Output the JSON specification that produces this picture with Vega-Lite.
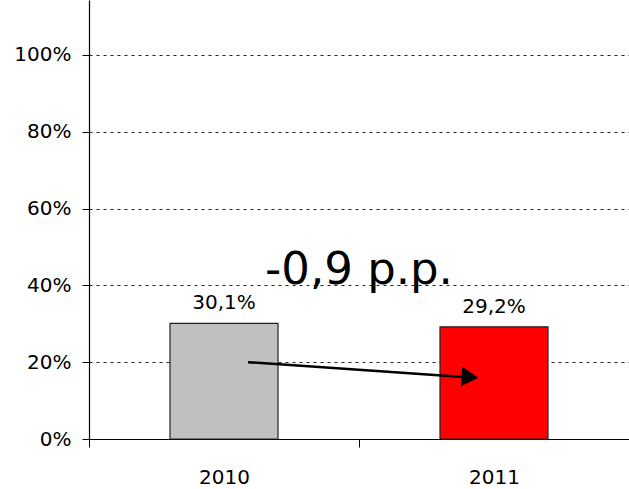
{
  "$schema": "https://vega.github.io/schema/vega-lite/v6.json",
  "width": 540,
  "height": 439,
  "autosize": {"type": "none"},
  "padding": {"left": 89, "top": 0, "right": 0, "bottom": 50},
  "background": "white",
  "config": {
    "view": {"stroke": null},
    "font": "DejaVu Sans",
    "axis": {"labelFont": "DejaVu Sans", "labelFontSize": 20, "labelColor": "black", "domainColor": "black", "tickColor": "black"}
  },
  "layer": [
    {
      "data": {"values": [
        {"year": "2010", "value": 0.301, "label": "30,1%"},
        {"year": "2011", "value": 0.292, "label": "29,2%"}
      ]},
      "encoding": {
        "x": {"field": "year", "type": "nominal", "title": null,
          "scale": {"paddingInner": 0, "paddingOuter": 0},
          "axis": {"labelAngle": 0, "tickBand": "extent", "tickSize": 8, "labelPadding": 20, "domainWidth": 1.2}},
        "y": {"field": "value", "type": "quantitative", "title": null,
          "scale": {"domain": [0, 1.1432], "nice": false},
          "axis": {"values": [0, 0.2, 0.4, 0.6, 0.8, 1.0], "format": ".0%", "grid": true, "gridDash": [3, 4], "gridColor": "#222222", "gridWidth": 1, "tickSize": 7, "labelPadding": 11, "domainWidth": 1.2}}
      },
      "layer": [
        {
          "mark": {"type": "bar", "width": {"band": 0.4}, "stroke": "#222222", "strokeWidth": 1.2},
          "encoding": {
            "color": {"field": "year", "type": "nominal", "legend": null,
              "scale": {"domain": ["2010", "2011"], "range": ["#C0C0C0", "#FF0000"]}}
          }
        },
        {
          "mark": {"type": "text", "dy": -14, "baseline": "alphabetic", "fontSize": 20, "color": "black"},
          "encoding": {"text": {"field": "label"}}
        }
      ]
    },
    {
      "data": {"values": [
        {"px": 0.589, "py": 0.20},
        {"px": 1.40, "py": 0.161}
      ]},
      "mark": {"type": "line", "color": "black", "strokeWidth": 2.5},
      "encoding": {
        "x": {"field": "px", "type": "quantitative", "scale": {"domain": [0, 2], "nice": false}, "axis": null},
        "y": {"field": "py", "type": "quantitative", "title": null}
      }
    },
    {
      "data": {"values": [{"px": 1.411, "py": 0.161}]},
      "mark": {"type": "point", "shape": "triangle-right", "filled": true, "color": "black", "opacity": 1, "size": 380, "angle": 4},
      "encoding": {
        "x": {"field": "px", "type": "quantitative", "scale": {"domain": [0, 2], "nice": false}, "axis": null},
        "y": {"field": "py", "type": "quantitative", "title": null}
      }
    },
    {
      "data": {"values": [{"px": 1.0, "py": 0.404, "t": "-0,9 p.p."}]},
      "mark": {"type": "text", "fontSize": 45, "baseline": "alphabetic", "align": "center", "color": "black"},
      "encoding": {
        "x": {"field": "px", "type": "quantitative", "scale": {"domain": [0, 2], "nice": false}, "axis": null},
        "y": {"field": "py", "type": "quantitative", "title": null},
        "text": {"field": "t"}
      }
    }
  ],
  "resolve": {"scale": {"x": "independent"}}
}
